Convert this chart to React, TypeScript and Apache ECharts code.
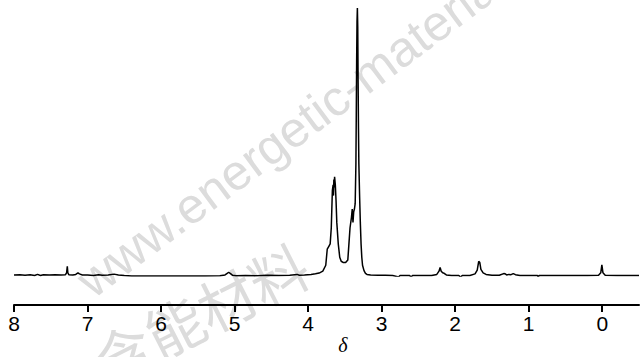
import React, { useEffect, useRef } from "react";
import * as echarts from "echarts";

// Chemical shift (δ, ppm) and normalised intensity
const SHIFTS = [
  8.0, 7.92, 7.85, 7.78, 7.72, 7.68, 7.64, 7.6, 7.52, 7.44, 7.36, 7.3, 7.285, 7.275, 7.268, 7.255,
  7.2, 7.16, 7.13, 7.11, 7.07, 7.0, 6.92, 6.85, 6.8, 6.72, 6.64, 6.58, 6.5, 6.4, 6.2, 6.0, 5.8,
  5.6, 5.4, 5.2, 5.13, 5.1, 5.08, 5.06, 5.03, 4.98, 4.85, 4.7, 4.55, 4.4, 4.25, 4.15, 4.12, 4.05,
  3.96, 3.9, 3.85, 3.8, 3.76, 3.74, 3.72, 3.7, 3.685, 3.67, 3.66, 3.655, 3.65, 3.645, 3.64, 3.63,
  3.62, 3.61, 3.59, 3.57, 3.55, 3.52, 3.49, 3.46, 3.445, 3.43, 3.41, 3.4, 3.39, 3.38, 3.37, 3.36,
  3.35, 3.345, 3.34, 3.335, 3.33, 3.325, 3.32, 3.315, 3.31, 3.3, 3.29, 3.28, 3.27, 3.26, 3.24,
  3.22, 3.2, 3.15, 3.05, 2.95, 2.85, 2.77, 2.75, 2.62, 2.6, 2.58, 2.45, 2.32, 2.25, 2.22, 2.205,
  2.19, 2.17, 2.15, 2.12, 2.05, 1.95, 1.93, 1.9, 1.8, 1.73, 1.7, 1.68, 1.665, 1.65, 1.62, 1.58,
  1.5, 1.4, 1.34, 1.32, 1.3, 1.27, 1.24, 1.21, 1.18, 1.12, 1.0, 0.88, 0.87, 0.86, 0.7, 0.5, 0.2,
  0.05, 0.02, 0.005, -0.01, -0.04, -0.2, -0.5,
];
const INTENSITIES = [
  0.004, 0.005, 0.003, 0.005, 0.002, 0.006, 0.002, 0.005, 0.004, 0.005, 0.004, 0.005, 0.012, 0.036,
  0.012, 0.005, 0.004, 0.006, 0.012, 0.008, 0.004, 0.004, 0.002, 0.005, 0.003, 0.004, 0.007, 0.004,
  0.002, 0.0, 0.0, 0.0, 0.0, 0.0, 0.0, 0.001, 0.004, 0.01, 0.014, 0.01, 0.003, 0.001, 0.002, 0.001,
  0.003, 0.002, 0.003, 0.006, 0.003, 0.004, 0.006, 0.008, 0.011, 0.018, 0.04, 0.1, 0.11, 0.12, 0.18,
  0.32, 0.34, 0.3, 0.36, 0.33, 0.37, 0.34, 0.28, 0.2, 0.12, 0.07, 0.055, 0.05, 0.05, 0.06, 0.12,
  0.18, 0.22, 0.25, 0.2, 0.24, 0.25, 0.27, 0.42, 0.6, 0.8, 0.95, 1.0, 0.93, 0.72, 0.55, 0.42, 0.3,
  0.2, 0.12, 0.07, 0.04, 0.02, 0.01, 0.006, 0.004, 0.003, 0.003, 0.002, -0.004, 0.002, 0.002, -0.004,
  0.002, 0.002, 0.002, 0.006, 0.018, 0.032, 0.018, 0.012, 0.01, 0.004, 0.002, 0.002, -0.004, 0.002,
  0.002, 0.008, 0.022, 0.055, 0.05, 0.025, 0.012, 0.006, 0.003, 0.003, 0.009, 0.008, 0.004, 0.006,
  0.005, 0.009, 0.005, 0.002, 0.002, 0.002, -0.005, 0.002, 0.002, 0.002, 0.002, 0.003, 0.012, 0.042,
  0.012, 0.003, 0.002, 0.002,
];
const TICK_VALUES = [8, 7, 6, 5, 4, 3, 2, 1, 0];
const AXIS_NAME = "δ";
const WATERMARK_EN = "www.energetic-materials.cn";
const WATERMARK_CN = "含能材料";

export default function App() {
  const ref = useRef<HTMLDivElement>(null);

  useEffect(() => {
    document.body.style.margin = "0";
    const chart = echarts.init(ref.current!, null, { renderer: "svg" });
    const data = SHIFTS.map((s, i) => [s, INTENSITIES[i]]);
    chart.setOption({
      animation: false,
      backgroundColor: "#ffffff",
      grid: { left: 14, right: 1, top: 8, bottom: 81, containLabel: false },
      xAxis: {
        type: "value",
        min: -0.5,
        max: 8,
        inverse: true,
        offset: 29,
        splitLine: { show: false },
        axisLine: { show: true, onZero: false, lineStyle: { color: "#000", width: 2 } },
        axisTick: {
          show: true,
          length: 7,
          lineStyle: { color: "#000", width: 2 },
          customValues: TICK_VALUES,
        },
        axisLabel: {
          color: "#000",
          fontSize: 21,
          fontFamily: "Liberation Sans Narrow, Liberation Sans, Arial",
          margin: 8,
          customValues: TICK_VALUES,
        },
      },
      yAxis: { type: "value", min: 0, max: 1, show: false },
      graphic: [
        {
          type: "text",
          z: 0,
          x: 98,
          y: 306,
          rotation: 0.64,
          style: {
            text: WATERMARK_EN,
            fill: "#dcdcdc",
            fontSize: 50,
            fontFamily: "Liberation Sans, Arial",
            textAlign: "left",
            textVerticalAlign: "bottom",
          },
        },
        {
          type: "text",
          z: 0,
          x: 200,
          y: 312,
          rotation: 0.47,
          style: {
            text: WATERMARK_CN,
            fill: "#dcdcdc",
            fontSize: 58,
            fontFamily: "Noto Sans CJK SC",
            textAlign: "center",
            textVerticalAlign: "middle",
          },
        },
        {
          type: "text",
          z: 10,
          x: 343,
          y: 345,
          style: {
            text: AXIS_NAME,
            fill: "#000",
            fontSize: 20,
            fontStyle: "italic",
            fontFamily: "Liberation Serif, Times New Roman",
            textAlign: "center",
            textVerticalAlign: "middle",
          },
        },
      ],
      series: [
        {
          type: "line",
          data,
          showSymbol: false,
          symbol: "none",
          lineStyle: { color: "#000", width: 1.5 },
          z: 5,
        },
      ],
    });
    return () => chart.dispose();
  }, []);

  return (
    <div
      ref={ref}
      style={{ position: "absolute", left: 0, top: 0, width: 640, height: 357 }}
    />
  );
}
